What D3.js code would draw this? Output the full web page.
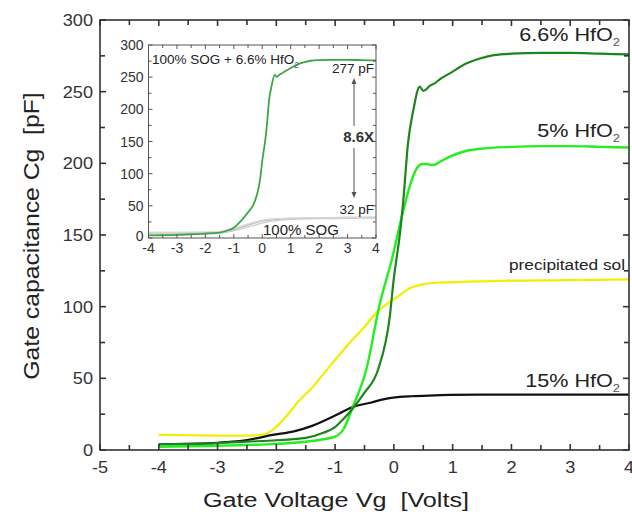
<!DOCTYPE html>
<html><head><meta charset="utf-8">
<script src="https://cdn.jsdelivr.net/npm/d3@7"></script>
<style>
body{margin:0;background:#fff;}
svg text{font-family:"Liberation Sans",Arial,sans-serif;white-space:pre;}
</style></head>
<body><svg id="c" width="632" height="515"></svg>
<script>
// ---- data ----
const xTicks = [-5,-4,-3,-2,-1,0,1,2,3,4];
const yTicks = [0,50,100,150,200,250,300];
const insetXTicks = [-4,-3,-2,-1,0,1,2,3,4];
const insetYTicks = [0,50,100,150,200,250,300];

const vg66 = [-4,-3.5,-3,-2.5,-2,-1.5,-1.2,-1,-0.85,-0.7,-0.5,-0.27,-0.07,0,0.05,0.1,0.16,0.24,0.33,0.44,0.5,0.55,0.61,0.7,0.78,0.95,1.24,1.45,1.7,2,2.5,3,3.5,4];
const c66  = [4,4.3,4.8,5.8,6.8,8.4,12,16,22,29,40,56,93,120,135,150,174,214,237,253.5,250.5,251.6,254,256,258.6,262.8,269.8,273,275.5,276.5,277,277,276.5,276];

const vg5 = [-4,-3.5,-3,-2.5,-2,-1.5,-1.2,-1,-0.85,-0.7,-0.47,-0.24,-0.04,0.16,0.3,0.41,0.48,0.56,0.67,0.8,0.95,1.24,1.47,2,2.5,3,3.5,4];
const c5  = [2.3,2.6,3,3.5,4.3,5.8,7.5,9.3,15,30,56,102,132,167,188,197.7,199.5,199.5,198.8,201.5,204.7,208.8,210.2,211.5,212,212,211.5,211];

const vg15 = [-4,-3.5,-3,-2.74,-2.5,-2.06,-1.7,-1.38,-1,-0.7,-0.4,-0.1,0.1,0.3,0.6,0.95,1.5,2,3,4];
const c15  = [4,4.3,5,5.8,7,10.5,13,17,24,30,33,36,37,37.5,38,38.4,38.6,38.6,38.6,38.6];

const vgSol = [-4,-3.5,-3,-2.5,-2.2,-2.06,-1.8,-1.6,-1.38,-1.1,-0.81,-0.5,-0.29,-0.1,0.1,0.27,0.45,0.67,1,1.8,3,4];
const cSol  = [10.5,10.3,10,10,11,14,25,35,44,58,72,86,96,102.5,108,112.8,115.2,116.5,117,118,118.5,119];

const vgSog = [-4,-3,-2,-1.5,-1,-0.5,0,0.5,1,2,3,4];
const cSogA = [8,8,8.5,9.5,13,20,26,29,30.5,31.5,32,32];
const cSogB = [6,6,6.5,7.5,11,17,23,27,29,30,30.5,31];
const cSogC = [9,9,9.5,10.5,15,22,28,30,31,31.5,32,32.5];

const svg = d3.select("#c");
const zip = (xs, ys) => xs.map((x,i)=>[x, ys[i]]);

// text with horizontal stretch
function stext(g, x, y, txt, fs, sx, anchor, opts={}){
  const t = g.append("text").attr("transform",`translate(${x},${y}) scale(${sx},1)`)
    .attr("text-anchor",anchor).attr("font-size",fs).attr("fill",opts.fill||"#222");
  if(opts.dy) t.attr("dy",opts.dy);
  if(opts.bold) t.attr("font-weight","bold");
  t.text(txt);
  return t;
}

// ---- main plot ----
const L=100, R=629, T=20, B=450;
const x = d3.scaleLinear().domain([-5,4]).range([L,R]);
const y = d3.scaleLinear().domain([0,300]).range([B,T]);
const axisCol = "#333";

function frame(g, xs, ys, xt, yt, xMinor, yMinor, maj, mnr, fs, sx, lblOff, col, sw){
  const x0=xs.range()[0], x1=xs.range()[1], y0=ys.range()[0], y1=ys.range()[1];
  const ln=(a,b,c,d)=>g.append("line").attr("x1",a).attr("x2",b).attr("y1",c).attr("y2",d).attr("stroke",col).attr("stroke-width",sw);
  xt.forEach(t=>{ const px=xs(t); ln(px,px,y0,y0-maj); ln(px,px,y1,y1+maj); });
  xMinor.forEach(t=>{ const px=xs(t); ln(px,px,y0,y0-mnr); ln(px,px,y1,y1+mnr); });
  yt.forEach(t=>{ const py=ys(t); ln(x0,x0+maj,py,py); ln(x1,x1-maj,py,py); });
  yMinor.forEach(t=>{ const py=ys(t); ln(x0,x0+mnr,py,py); ln(x1,x1-mnr,py,py); });
  g.append("rect").attr("x",x0).attr("y",y1).attr("width",x1-x0).attr("height",y0-y1)
    .attr("fill","none").attr("stroke",col).attr("stroke-width",sw);
  xt.forEach(t=>stext(g, xs(t), y0+lblOff[0], String(t), fs, sx, "middle", {fill:"#333"}));
  yt.forEach(t=>stext(g, x0-lblOff[1], ys(t)-(lblOff[2]&&t===0?lblOff[2]:0), String(t), fs, sx, "end", {fill:"#333", dy:"0.36em"}));
}

const gMain = svg.append("g");
const line = (xs, ys) => d3.line().x(d=>xs(d[0])).y(d=>ys(d[1])).curve(d3.curveMonotoneX);
const series = [
  {v:vgSol, c:cSol, col:"#f2ee00", w:2.2},
  {v:vg15, c:c15, col:"#111", w:2.2},
  {v:vg5, c:c5, col:"#22ee22", w:2.4},
  {v:vg66, c:c66, col:"#1b861b", w:2.2},
];
series.forEach(s=>{
  gMain.append("path").datum(zip(s.v,s.c)).attr("d",line(x,y)).attr("fill","none")
    .attr("stroke",s.col).attr("stroke-width",s.w).attr("stroke-linejoin","round");
});
frame(gMain, x, y, xTicks, yTicks, d3.range(-4.5,4,1), d3.range(25,300,50), 6, 5, 16.5, 1.1, [23, 7], axisCol, 1.6);

// axis titles
stext(svg, 336, 507, "Gate Voltage Vg  [Volts]", 21, 1.2, "middle");
svg.append("text").attr("transform","translate(39,236) rotate(-90) scale(1.1,1)").attr("text-anchor","middle")
  .attr("font-size",22.5).attr("fill","#222").text("Gate capacitance Cg  [pF]");

// series labels
function hfo(g, xEnd, yb, pre, fs, sx){
  const t = g.append("text").attr("transform",`translate(${xEnd},${yb}) scale(${sx},1)`)
    .attr("text-anchor","end").attr("font-size",fs).attr("fill","#222");
  t.append("tspan").text(pre+" HfO");
  t.append("tspan").attr("font-size",fs*0.6).attr("dy",fs*0.3).attr("fill","#555").text("2");
}
hfo(svg, 620, 41, "6.6%", 18, 1.2);
hfo(svg, 620, 137, "5%", 18, 1.2);
hfo(svg, 620, 387, "15%", 18, 1.2);
stext(svg, 625, 270, "precipitated sol", 15, 1.15, "end");

// ---- inset ----
const xi = d3.scaleLinear().domain([-4,4]).range([148.5,376]);
const yi = d3.scaleLinear().domain([0,300]).range([238,45]);
const gIn = svg.append("g");
gIn.append("rect").attr("x",148.5).attr("y",45).attr("width",227.5).attr("height",193).attr("fill","#fff");
[cSogB,cSogA,cSogC].forEach((cs,i)=>{
  gIn.append("path").datum(zip(vgSog,cs)).attr("d",line(xi,yi)).attr("fill","none")
    .attr("stroke",["#cfcfcf","#bdbdbd","#d8d8d8"][i]).attr("stroke-width",1.2);
});
gIn.append("path").datum(zip(vg66,c66)).attr("d",line(xi,yi)).attr("fill","none")
  .attr("stroke","#3aa844").attr("stroke-width",1.8);
frame(gIn, xi, yi, insetXTicks, insetYTicks, d3.range(-3.5,4,1), d3.range(25,300,50), 4, 3, 14, 1.0, [15, 5, 2], "#555", 1);

// inset annotations
const ti = gIn.append("text").attr("x",152).attr("y",64).attr("font-size",13.5).attr("fill","#222");
ti.append("tspan").text("100% SOG + 6.6% HfO");
ti.append("tspan").attr("font-size",8.5).attr("dy",4).attr("fill","#666").text("2");
gIn.append("text").attr("x",374).attr("y",73).attr("text-anchor","end").attr("font-size",13.5).attr("fill","#222").text("277 pF");
gIn.append("text").attr("x",374).attr("y",214).attr("text-anchor","end").attr("font-size",13.5).attr("fill","#222").text("32 pF");
gIn.append("text").attr("x",374).attr("y",142).attr("text-anchor","end").attr("font-size",15).attr("font-weight","bold").attr("fill","#333").text("8.6X");
gIn.append("text").attr("x",263).attr("y",235).attr("font-size",15).attr("fill","#222").text("100% SOG");
// arrows
const ax = 354;
gIn.append("line").attr("x1",ax).attr("x2",ax).attr("y1",80).attr("y2",126).attr("stroke","#555").attr("stroke-width",1);
gIn.append("path").attr("d",`M${ax-2.5},84 L${ax},78 L${ax+2.5},84 Z`).attr("fill","#555");
gIn.append("line").attr("x1",ax).attr("x2",ax).attr("y1",148).attr("y2",196).attr("stroke","#555").attr("stroke-width",1);
gIn.append("path").attr("d",`M${ax-2.5},192 L${ax},198 L${ax+2.5},192 Z`).attr("fill","#555");
</script></body></html>
